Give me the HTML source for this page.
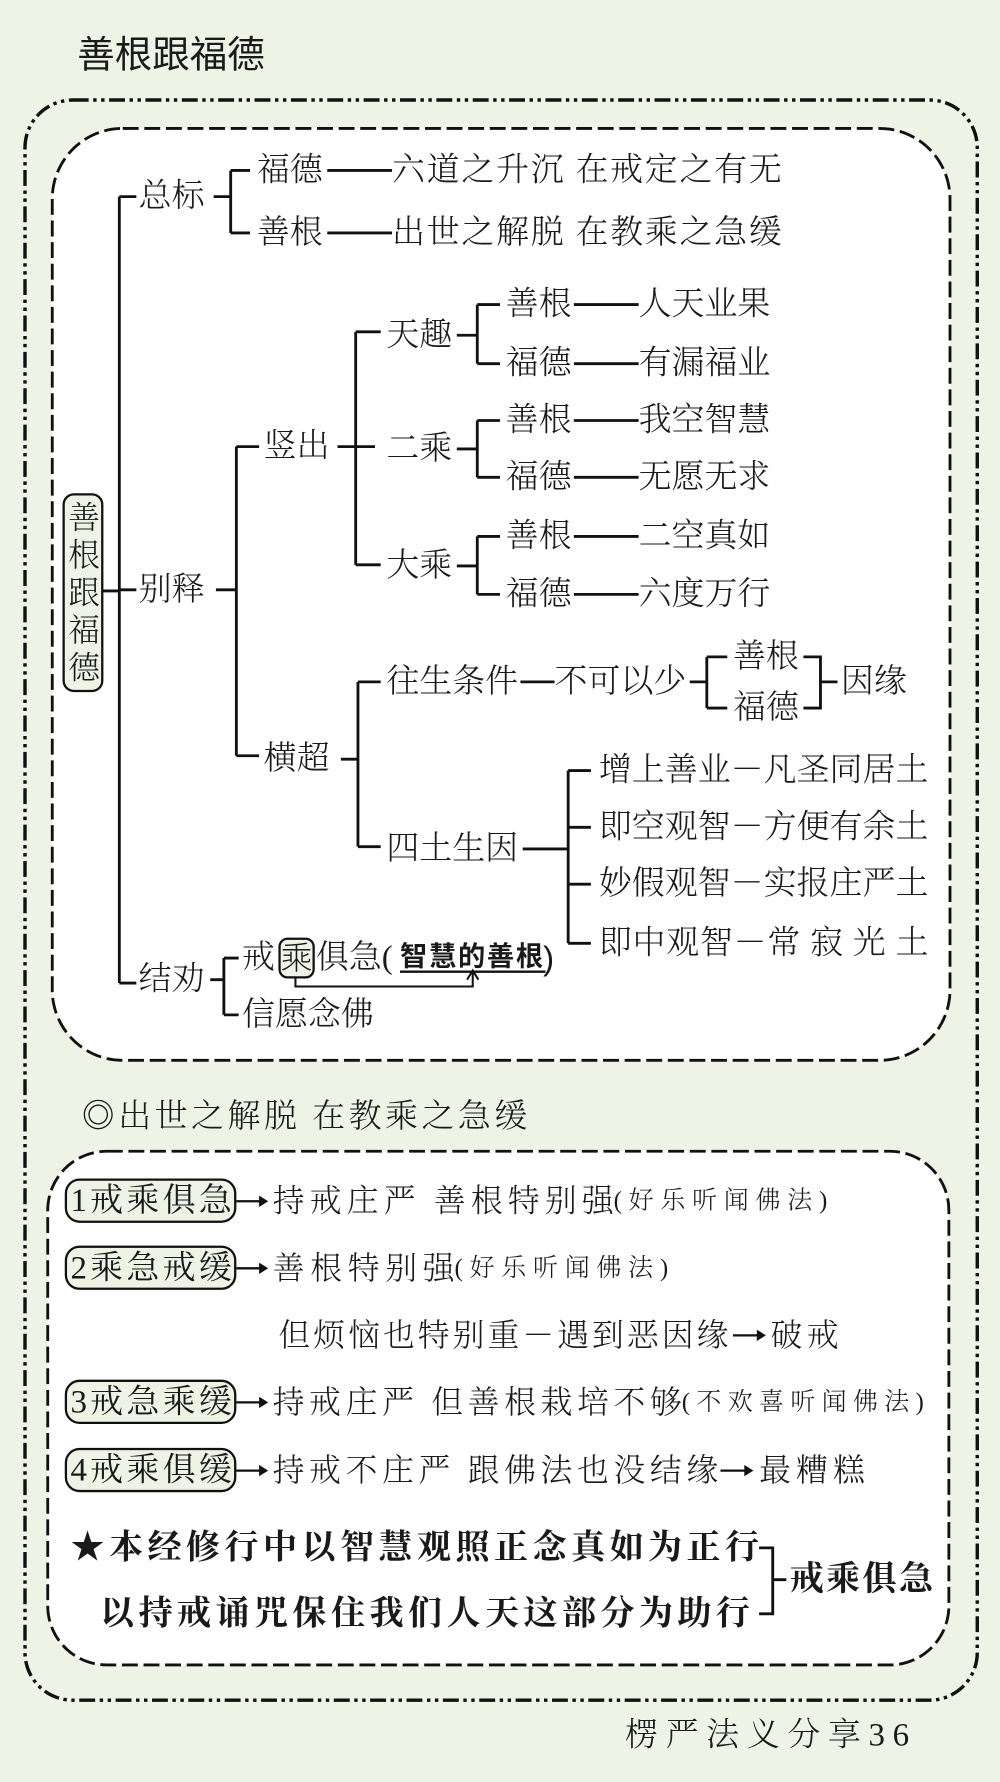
<!DOCTYPE html>
<html><head><meta charset="utf-8"><style>
html,body{margin:0;padding:0;background:#eef3e6;}
svg{display:block}
text{font-family:"Liberation Serif","Noto Serif CJK SC","Noto Sans CJK SC",serif;fill:#1a1a1a;dominant-baseline:central}
.s{font-family:"Liberation Sans","Noto Sans CJK SC",sans-serif;font-weight:300}
.b{font-family:"Liberation Sans","Noto Sans CJK SC",sans-serif;font-weight:700}
.ar{font-family:"Noto Sans CJK SC","Noto Sans CJK JP",sans-serif}
</style></head><body>
<svg width="1000" height="1782" viewBox="0 0 880 1568" preserveAspectRatio="none" xmlns="http://www.w3.org/2000/svg">
<rect x="0" y="0" width="880" height="1568" fill="#eef3e6"/>
<text class="s" x="68" y="48" font-size="33" style="font-weight:400">善根跟福德</text>
<rect x="22" y="88" width="838" height="1408" rx="42" fill="#eef3e6" stroke="#111" stroke-width="3" stroke-dasharray="14 4 3 4 3 4"/>
<rect x="46" y="113" width="790" height="820" rx="62" fill="#fff" stroke="#111" stroke-width="2.5" stroke-dasharray="14 5"/>
<rect x="42" y="1013" width="793" height="452" rx="52" fill="#fff" stroke="#111" stroke-width="2.5" stroke-dasharray="14 5"/>

<g stroke="#111" stroke-width="2.5" fill="none">
<path d="M90 520 H105 M105 173 V865 M105 173 H120 M105 519 H120 M105 865 H120"/>
<path d="M188 173 H203 M203 150 V205 M203 150 H220 M203 205 H220"/>
<line x1="288" y1="150" x2="345" y2="150"/><line x1="288" y1="205" x2="345" y2="205"/>
<path d="M190 519 H208 M208 393 V665 M208 393 H228 M208 665 H228"/>
<path d="M297 393 H330 M313 292 V497 M313 292 H335 M313 497 H335"/>
<path d="M402 295 H420 M420 268 V320 M420 268 H440 M420 320 H440"/>
<path d="M402 395 H420 M420 370 V420 M420 370 H440 M420 420 H440"/>
<path d="M402 498 H420 M420 472 V523 M420 472 H440 M420 523 H440"/>
<path d="M505 268 H562 M505 320 H562 M505 370 H562 M505 420 H562 M505 472 H562 M505 523 H562"/>
<path d="M300 668 H315 M315 600 V745 M315 600 H335 M315 745 H335"/>
<path d="M458 600 H488"/>
<path d="M607 600 H622 M622 578 V623 M622 578 H640 M622 623 H640"/>
<path d="M707 578 H722 V623 H707 M722 600 H737"/>
<path d="M460 747 H500 M500 678 V830 M500 678 H520 M500 728 H520 M500 778 H520 M500 830 H520"/>
<path d="M185 862 H197 M197 843 V893 M197 843 H210 M197 893 H210"/>
<path d="M260 858 V868 H416 V856" stroke-width="1.8"/>
<path d="M411 862 L416 854 L421 862" stroke-width="1.8"/>
<line x1="352" y1="855" x2="480" y2="855" stroke-width="2"/>
<path d="M668 1362 H680 V1420 H668 M680 1390 H692"/>
</g>

<rect x="56" y="435" width="34" height="173" rx="9" fill="#eef3e6" stroke="#111" stroke-width="2"/>
<g class="s" font-size="28">
<text x="60" y="456">善</text><text x="60" y="489">根</text><text x="60" y="522">跟</text><text x="60" y="555">福</text><text x="60" y="588">德</text>
</g>

<g class="s" font-size="29">
<text x="122" y="173">总标</text>
<text x="226" y="150">福德</text><text x="345" y="150" textLength="343">六道之升沉 在戒定之有无</text>
<text x="226" y="205">善根</text><text x="345" y="205" textLength="343">出世之解脱 在教乘之急缓</text>
<text x="122" y="519">别释</text>
<text x="232" y="393">竖出</text>
<text x="340" y="295">天趣</text><text x="340" y="395">二乘</text><text x="340" y="498">大乘</text>
<text x="445" y="268">善根</text><text x="562" y="268">人天业果</text>
<text x="445" y="320">福德</text><text x="562" y="320">有漏福业</text>
<text x="445" y="370">善根</text><text x="562" y="370">我空智慧</text>
<text x="445" y="420">福德</text><text x="562" y="420">无愿无求</text>
<text x="445" y="472">善根</text><text x="562" y="472">二空真如</text>
<text x="445" y="523">福德</text><text x="562" y="523">六度万行</text>
<text x="232" y="668">横超</text>
<text x="340" y="600">往生条件</text><text x="488" y="600">不可以少</text>
<text x="645" y="578">善根</text><text x="645" y="623">福德</text>
<text x="740" y="600">因缘</text>
<text x="340" y="747">四土生因</text>
<text x="527" y="678" textLength="290">增上善业－凡圣同居土</text>
<text x="527" y="728" textLength="290">即空观智－方便有余土</text>
<text x="527" y="778" textLength="290">妙假观智－实报庄严土</text>
<text x="527" y="830" textLength="290">即中观智－常 寂 光 土</text>
<text x="122" y="862">结劝</text>
<text x="213" y="843">戒</text>
<text x="278" y="843">俱急(</text>
<text x="213" y="893">信愿念佛</text>
<text x="72" y="983" textLength="392">◎出世之解脱 在教乘之急缓</text>
<text x="550" y="1527" textLength="250">楞严法义分享36</text>
</g>
<rect x="246" y="826" width="30" height="34" rx="7" fill="#eef3e6" stroke="#111" stroke-width="2"/>
<text class="s" x="247" y="843" font-size="28">乘</text>
<text class="b" x="352" y="841" font-size="24" textLength="126">智慧的善根</text>
<text class="s" x="478" y="843" font-size="29">)</text>

<g fill="#eef3e6" stroke="#111" stroke-width="2">
<rect x="58" y="1038" width="149" height="37" rx="12"/>
<rect x="58" y="1097" width="149" height="37" rx="12"/>
<rect x="58" y="1215" width="149" height="37" rx="12"/>
<rect x="58" y="1275" width="149" height="37" rx="12"/>
</g>
<g font-size="29">
<text x="62" y="1057" textLength="142">1戒乘俱急</text>
<text x="62" y="1116" textLength="142">2乘急戒缓</text>
<text x="62" y="1234" textLength="142">3戒急乘缓</text>
<text x="62" y="1294" textLength="142">4戒乘俱缓</text>
</g>
<g stroke="#111" stroke-width="2" fill="#111">
<line x1="208" y1="1057" x2="234" y2="1057"/><path d="M236 1057 L228 1052 L228 1062 Z" stroke="none"/>
<line x1="208" y1="1116" x2="234" y2="1116"/><path d="M236 1116 L228 1111 L228 1121 Z" stroke="none"/>
<line x1="208" y1="1234" x2="234" y2="1234"/><path d="M236 1234 L228 1229 L228 1239 Z" stroke="none"/>
<line x1="208" y1="1294" x2="234" y2="1294"/><path d="M236 1294 L228 1289 L228 1299 Z" stroke="none"/>
<line x1="645" y1="1175" x2="672" y2="1175"/><path d="M674 1175 L666 1170 L666 1180 Z" stroke="none"/>
<line x1="634" y1="1294" x2="661" y2="1294"/><path d="M663 1294 L655 1289 L655 1299 Z" stroke="none"/>
</g>
<g class="s" font-size="28">
<text x="240" y="1057" textLength="300">持戒庄严  善根特别强</text><text x="540" y="1057" font-size="22" textLength="188">(好乐听闻佛法)</text>
<text x="240" y="1116" textLength="160">善根特别强</text><text x="400" y="1116" font-size="22" textLength="188">(好乐听闻佛法)</text>
<text x="245" y="1175" textLength="396">但烦恼也特别重－遇到恶因缘</text><text x="678" y="1175" textLength="60">破戒</text>
<text x="240" y="1234" textLength="360">持戒庄严  但善根栽培不够</text><text x="600" y="1234" font-size="22" textLength="213">(不欢喜听闻佛法)</text>
<text x="240" y="1294" textLength="392">持戒不庄严  跟佛法也没结缘</text><text x="668" y="1294" textLength="93">最糟糕</text>
</g>
<g class="b" font-size="30">
<text x="62" y="1362" textLength="606">★本经修行中以智慧观照正念真如为正行</text>
<text x="88" y="1420" textLength="572">以持戒诵咒保住我们人天这部分为助行</text>
<text x="695" y="1390" textLength="126">戒乘俱急</text>
</g>
</svg>
</body></html>
